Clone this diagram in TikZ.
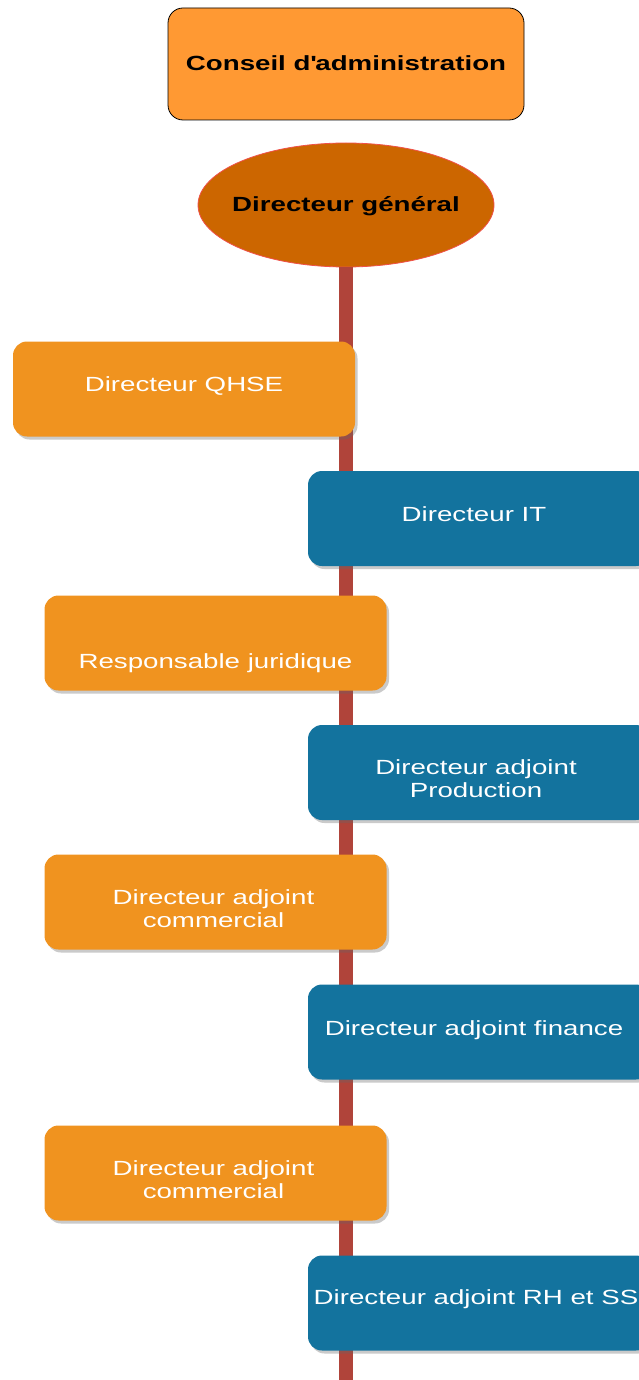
\documentclass[tikz,border=0pt]{standalone}
\usepackage{fontspec}
\setmainfont[FakeStretch=1.35]{Liberation Sans}
\usetikzlibrary{shapes.geometric,shadows}

\definecolor{boardfill}{HTML}{FF9933}
\definecolor{dgfill}{HTML}{CC6600}
\definecolor{dgline}{HTML}{F0504A}
\definecolor{orangebox}{HTML}{F0931F}
\definecolor{bluebox}{HTML}{13739E}
\definecolor{spine}{HTML}{B0443A}

\tikzset{
  every node/.style={font=\fontsize{20.5}{23}\selectfont},
  board/.style={draw=black, line width=0.8pt, fill=boardfill, rounded corners=15pt,
    minimum width=356pt, minimum height=112pt, inner sep=0pt},
  dgshape/.style={ellipse, draw=dgline, line width=0.8pt, fill=dgfill,
    minimum width=296pt, minimum height=124pt, inner sep=0pt},
  unit/.style={rounded corners=14pt, minimum width=342pt, minimum height=95pt, inner sep=0pt,
    drop shadow={shadow xshift=2.5pt, shadow yshift=-3pt, opacity=0.35, fill=black!60}},
  leftbox/.style={unit, fill=orangebox},
  rightbox/.style={unit, fill=bluebox},
  spineline/.style={draw=spine, line width=14pt},
  darklabel/.style={anchor=base, text=black, font=\fontsize{20.5}{23}\selectfont\bfseries},
  lightlabel/.style={anchor=base, text=white, align=center},
}

\begin{document}
\begin{tikzpicture}[x=1pt, y=-1pt]
\useasboundingbox (0,0) rectangle (638,1380);

% top of the chart
\node[board] (ca) at (346,64) {};
\node[darklabel] (catext) at (346,71) {Conseil d\textquotesingle administration};
\node[dgshape] (dg) at (346,205) {};
\node[darklabel] (dgtext) at (346,212) {Directeur g\'en\'eral};

% vertical spine under the general director
\coordinate (spineend) at (346,1385);
\draw[spineline] (dg.south) -- (spineend);

% departments, alternating on both sides of the spine
\node[leftbox] (qhse) at (184,389) {};
\node[lightlabel] (qhsetext) at (184,391) {Directeur QHSE};

\node[rightbox] (it) at (479,518.5) {};
\node[lightlabel] (ittext) at (474,521) {Directeur IT};

\node[leftbox] (jur) at (215.5,643) {};
\node[lightlabel] (jurtext) at (215.5,668) {Responsable juridique};

\node[rightbox] (prod) at (479,772.5) {};
\node[lightlabel, anchor=center] (prodtext) at (476,779) {Directeur adjoint\\Production};

\node[leftbox] (com1) at (215.5,902) {};
\node[lightlabel, anchor=center] (com1text) at (213.5,909) {Directeur adjoint\\commercial};

\node[rightbox] (fin) at (479,1032) {};
\node[lightlabel] (fintext) at (474,1035) {Directeur adjoint finance};

\node[leftbox] (com2) at (215.5,1173) {};
\node[lightlabel, anchor=center] (com2text) at (213.5,1180) {Directeur adjoint\\commercial};

\node[rightbox] (rh) at (479,1303) {};
\node[lightlabel] (rhtext) at (476,1304) {Directeur adjoint RH et SS};
\end{tikzpicture}
\end{document}
